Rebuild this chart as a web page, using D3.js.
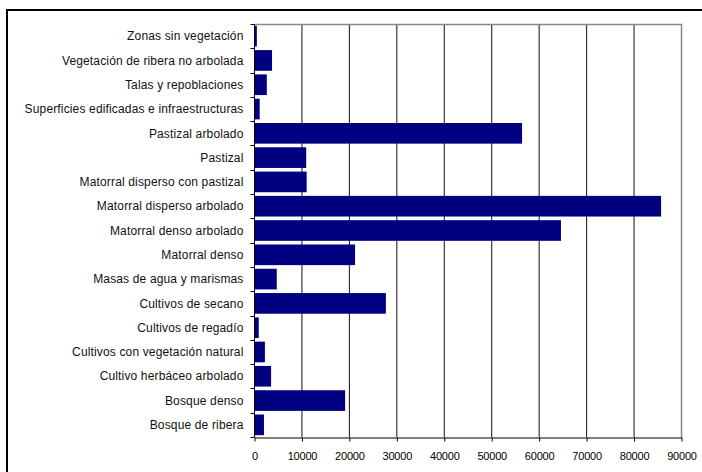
<!DOCTYPE html>
<html>
<head>
<meta charset="utf-8">
<script src="https://cdn.jsdelivr.net/npm/d3@7"></script>
<style>
  body { margin: 0; background: #fff; }
  svg { display: block; font-family: "Liberation Sans", Arial, sans-serif; }
</style>
</head>
<body>
<svg id="chart" width="702" height="472"></svg>
<script>
// categorías de arriba a abajo
const categories = [
    "Zonas sin vegetación",
    "Vegetación de ribera no arbolada",
    "Talas y repoblaciones",
    "Superficies edificadas e infraestructuras",
    "Pastizal arbolado",
    "Pastizal",
    "Matorral disperso con pastizal",
    "Matorral disperso arbolado",
    "Matorral denso arbolado",
    "Matorral denso",
    "Masas de agua y marismas",
    "Cultivos de secano",
    "Cultivos de regadío",
    "Cultivos con vegetación natural",
    "Cultivo herbáceo arbolado",
    "Bosque denso",
    "Bosque de ribera"
];
const values = [600, 3800, 2700, 1200, 56500, 11000, 11100, 85800, 64700, 21300, 4800, 27800, 1000, 2300, 3600, 19200, 2100];
const xTicks = [0, 10000, 20000, 30000, 40000, 50000, 60000, 70000, 80000, 90000];

const svg = d3.select("#chart");
const margin = { top: 24, right: 21, bottom: 35, left: 254 };
const width = 702 - margin.left - margin.right;
const height = 472 - margin.top - margin.bottom;

// marco exterior (sólo se ve arriba y a la izquierda)
svg.append("rect")
    .attr("x", 7).attr("y", 10)
    .attr("width", 720).attr("height", 500)
    .attr("fill", "none")
    .attr("stroke", "#000")
    .attr("stroke-width", 2);

const g = svg.append("g").attr("transform", `translate(${margin.left},${margin.top})`);

const x = d3.scaleLinear().domain([0, 90000]).range([0, width]);
const y = d3.scaleBand().domain(categories).range([0, height]).paddingInner(0.15).paddingOuter(0.075);

// líneas de división
g.append("g")
    .selectAll("line")
    .data(xTicks.slice(1, -1))
    .join("line")
    .attr("x1", d => x(d) + 0.5).attr("x2", d => x(d) + 0.5)
    .attr("y1", 0).attr("y2", height)
    .attr("stroke", "#111")
    .attr("stroke-width", 1);

// borde del área de trazado
g.append("path")
    .attr("d", `M0.5,0.5H${width + 0.5}V${height + 0.5}`)
    .attr("fill", "none")
    .attr("stroke", "#888")
    .attr("stroke-width", 1.5);

// barras
g.append("g")
    .selectAll("rect")
    .data(categories)
    .join("rect")
    .attr("x", 0)
    .attr("y", d => y(d))
    .attr("width", (d, i) => x(values[i]))
    .attr("height", y.bandwidth())
    .attr("fill", "#000080");

// eje x
const xAxis = g.append("g")
    .attr("transform", `translate(0.5,${height + 0.5})`)
    .call(d3.axisBottom(x).tickValues(xTicks).tickFormat(d3.format("d")).tickSize(4).tickSizeOuter(0));
xAxis.select(".domain").attr("stroke", "#000");
xAxis.selectAll(".tick line").attr("stroke", "#000");
xAxis.selectAll("text")
    .attr("y", 14.5)
    .attr("dy", "0.71em")
    .style("font-size", "11px")
    .style("letter-spacing", "-0.2px")
    .attr("fill", "#000");

// eje y: marcas entre categorías
const yAxis = g.append("g").attr("transform", "translate(0.5,0)");
yAxis.append("line")
    .attr("x1", 0).attr("x2", 0)
    .attr("y1", 0).attr("y2", height)
    .attr("stroke", "#000");
yAxis.selectAll("line.tk")
    .data(d3.range(categories.length + 1))
    .join("line")
    .attr("class", "tk")
    .attr("x1", -4).attr("x2", 0)
    .attr("y1", i => Math.round(i * height / categories.length) + 0.5)
    .attr("y2", i => Math.round(i * height / categories.length) + 0.5)
    .attr("stroke", "#000");
yAxis.selectAll("text")
    .data(categories)
    .join("text")
    .attr("x", -11)
    .attr("y", d => y(d) + y.bandwidth() / 2)
    .attr("dy", "0.35em")
    .attr("text-anchor", "end")
    .style("font-size", "12px")
    .style("letter-spacing", "0.15px")
    .attr("fill", "#111")
    .text(d => d);
</script>
</body>
</html>
